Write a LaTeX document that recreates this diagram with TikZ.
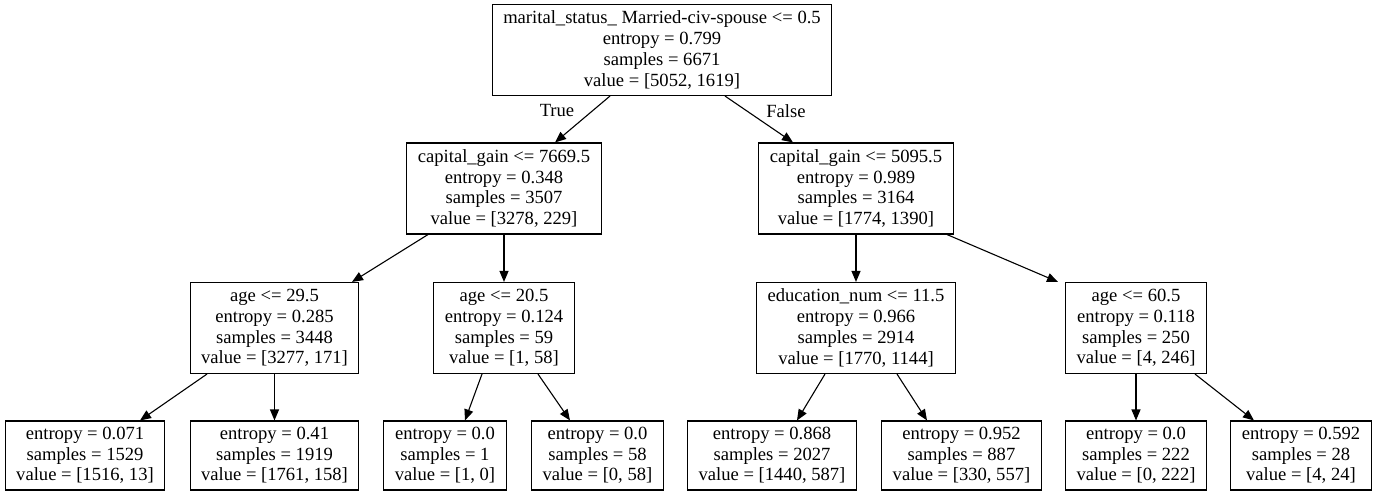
\documentclass[tikz,border=0pt]{standalone}
\usepackage{fontspec}
\setmainfont{Liberation Serif}
\usetikzlibrary{arrows.meta}
\tikzset{
  split/.style={draw, line width=1.1pt, align=center, inner xsep=11pt, inner ysep=0pt,
    minimum height=91pt, font=\fontsize{18.6}{20.7}\selectfont},
  leaf/.style={split, minimum height=69pt},
  edge/.style={line width=1.1pt, -{Triangle[length=11pt,width=9pt]}},
  lbl/.style={font=\fontsize{18.6}{20.7}\selectfont}
}
\begin{document}
\begin{tikzpicture}[x=1pt,y=-1pt]
  \useasboundingbox (0,0) rectangle (1377,497);
  % root
  \node[split] (root) at (662,50) {marital\_status\_ Married-civ-spouse <= 0.5\\entropy = 0.799\\samples = 6671\\value = [5052, 1619]};
  % depth 1
  \node[split] (c1) at (504,188.5) {capital\_gain <= 7669.5\\entropy = 0.348\\samples = 3507\\value = [3278, 229]};
  \node[split] (c2) at (856,188.5) {capital\_gain <= 5095.5\\entropy = 0.989\\samples = 3164\\value = [1774, 1390]};
  % depth 2
  \node[split] (c3) at (274.5,328) {age <= 29.5\\entropy = 0.285\\samples = 3448\\value = [3277, 171]};
  \node[split] (c4) at (504,328) {age <= 20.5\\entropy = 0.124\\samples = 59\\value = [1, 58]};
  \node[split] (c5) at (856,328) {education\_num <= 11.5\\entropy = 0.966\\samples = 2914\\value = [1770, 1144]};
  \node[split] (c6) at (1136,328) {age <= 60.5\\entropy = 0.118\\samples = 250\\value = [4, 246]};
  % leaves
  \node[leaf] (l1) at (85,455.5) {entropy = 0.071\\samples = 1529\\value = [1516, 13]};
  \node[leaf] (l2) at (274.5,455.5) {entropy = 0.41\\samples = 1919\\value = [1761, 158]};
  \node[leaf] (l3) at (445,455.5) {entropy = 0.0\\samples = 1\\value = [1, 0]};
  \node[leaf] (l4) at (597.5,455.5) {entropy = 0.0\\samples = 58\\value = [0, 58]};
  \node[leaf] (l5) at (772,455.5) {entropy = 0.868\\samples = 2027\\value = [1440, 587]};
  \node[leaf] (l6) at (961.5,455.5) {entropy = 0.952\\samples = 887\\value = [330, 557]};
  \node[leaf] (l7) at (1136,455.5) {entropy = 0.0\\samples = 222\\value = [0, 222]};
  \node[leaf] (l8) at (1301,455.5) {entropy = 0.592\\samples = 28\\value = [4, 24]};
  % edges
  \draw[edge] ([xshift=-52pt]root.south) -- ([xshift=51pt]c1.north);
  \draw[edge] ([xshift=63pt]root.south) -- ([xshift=-63pt]c2.north);
  \node[lbl] (t) at (557,111) {True};
  \node[lbl] (f) at (786,111) {False};
  \draw[edge] ([xshift=-76pt]c1.south) -- ([xshift=77.5pt]c3.north);
  \draw[edge] (c1.south) -- (c4.north);
  \draw[edge] (c2.south) -- (c5.north);
  \draw[edge] ([xshift=91pt]c2.south) -- ([xshift=-78pt]c6.north);
  \draw[edge] ([xshift=-67.5pt]c3.south) -- ([xshift=55pt]l1.north);
  \draw[edge] (c3.south) -- (l2.north);
  \draw[edge] ([xshift=-22pt]c4.south) -- ([xshift=20pt]l3.north);
  \draw[edge] ([xshift=34pt]c4.south) -- ([xshift=-27.5pt]l4.north);
  \draw[edge] ([xshift=-31pt]c5.south) -- ([xshift=25pt]l5.north);
  \draw[edge] ([xshift=41pt]c5.south) -- ([xshift=-34.5pt]l6.north);
  \draw[edge] (c6.south) -- (l7.north);
  \draw[edge] ([xshift=59pt]c6.south) -- ([xshift=-47pt]l8.north);
\end{tikzpicture}
\end{document}
